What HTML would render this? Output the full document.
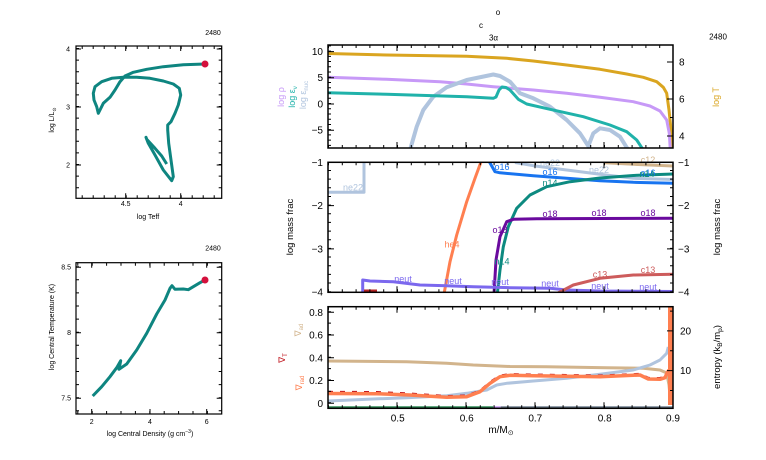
<!DOCTYPE html>
<html><head><meta charset="utf-8"><style>
html,body{margin:0;padding:0;background:#fff;}
svg{display:block;font-family:"Liberation Sans",sans-serif;}
</style></head><body>
<svg width="766" height="460" viewBox="0 0 766 460" xmlns="http://www.w3.org/2000/svg">
<defs>
<clipPath id="cTop"><rect x="328" y="45" width="345" height="103"/></clipPath>
<clipPath id="cMid"><rect x="328" y="162.3" width="345" height="130"/></clipPath>
<clipPath id="cBot"><rect x="328" y="306.7" width="345" height="101.6"/></clipPath>
<clipPath id="cTL"><rect x="76" y="46" width="145.7" height="152.3"/></clipPath>
<clipPath id="cBL"><rect x="76" y="262.7" width="145.7" height="151.3"/></clipPath>
</defs>
<rect width="766" height="460" fill="#fff"/>

<!-- ============ TOP-LEFT HR ============ -->
<g clip-path="url(#cTL)">
<polyline fill="none" stroke="#0e8580" stroke-width="3" stroke-linejoin="round" points="166.7,164 161.7,156 155,148.3 146.7,139.3 146,137.3 148.3,143.3 155,155 163.3,170 171.7,180.7 173.3,176.7 171,160 168.7,143.3 167.7,130 167.7,125 171,121.7 175,113.3 178.3,105 180.7,95 179.3,88.3 173.3,84 163.3,81 150,78.3 136.7,77.3 123.3,77.3 111.7,78.3 101.7,81.7 95,86.7 93.3,93.3 94,100 96.7,106.7 98.3,113.3 100,110 103.3,103.3 110,97.3 115,90 120,81.7 125,76 133.3,72.3 146.7,69.3 163.3,66.7 183.3,64.7 205,64"/>
<circle cx="205" cy="64" r="3.5" fill="#d4103c"/>
</g>
<rect x="76" y="46" width="145.7" height="152.3" fill="none" stroke="#000" stroke-width="1.2"/>
<g stroke="#000">
<line x1="77.5" y1="188.2" x2="77.5" y2="46" stroke-width="3" stroke-dasharray="1 10.6"/>
<line x1="220.2" y1="188.2" x2="220.2" y2="46" stroke-width="3" stroke-dasharray="1 10.6"/>
<line x1="81.7" y1="196.8" x2="221" y2="196.8" stroke-width="3" stroke-dasharray="1 10"/>
<line x1="81.7" y1="47.5" x2="221" y2="47.5" stroke-width="3" stroke-dasharray="1 10"/>
<path d="M76 49h5M76 107h5M76 165h5M221.7 49h-5M221.7 107h-5M221.7 165h-5M125.7 198.3v-5M180.7 198.3v-5M125.7 46v5M180.7 46v5" stroke-width="1"/>
</g>
<g font-size="7" fill="#000">
<text x="70" y="51.5" text-anchor="end">4</text>
<text x="70" y="109.5" text-anchor="end">3</text>
<text x="70" y="167.5" text-anchor="end">2</text>
<text x="125.7" y="206" text-anchor="middle">4.5</text>
<text x="180.7" y="206" text-anchor="middle">4</text>
<text x="148" y="219" text-anchor="middle">log Teff</text>
<text x="213" y="35" text-anchor="middle">2480</text>
<text transform="translate(54,120) rotate(-90)" text-anchor="middle">log L/L<tspan font-size="5" dy="2">⊙</tspan></text>
</g>

<!-- ============ BOTTOM-LEFT ============ -->
<g clip-path="url(#cBL)">
<polyline fill="none" stroke="#0e8580" stroke-width="3" stroke-linejoin="round" points="92.7,396 101.7,386.7 110,376.7 116.7,367.7 120.7,360.7 119,369.3 126.7,364 136.7,350 146.7,333.3 156.7,314 165,300 170,288.3 172,285.7 175,289.3 183.3,289 188.3,289.7 193.3,286.7 200,282.7 205,280"/>
<circle cx="205" cy="280" r="3.5" fill="#d4103c"/>
</g>
<rect x="76" y="262.7" width="145.7" height="151.3" fill="none" stroke="#000" stroke-width="1.2"/>
<g stroke="#000">
<line x1="77.5" y1="411.3" x2="77.5" y2="263" stroke-width="3" stroke-dasharray="1 12.1"/>
<line x1="220.2" y1="411.3" x2="220.2" y2="263" stroke-width="3" stroke-dasharray="1 12.1"/>
<line x1="77.3" y1="412.5" x2="221" y2="412.5" stroke-width="3" stroke-dasharray="1 13.4"/>
<line x1="77.3" y1="264.2" x2="221" y2="264.2" stroke-width="3" stroke-dasharray="1 13.4"/>
<path d="M76 267.2h5M76 332.7h5M76 398.2h5M221.7 267.2h-5M221.7 332.7h-5M221.7 398.2h-5M91.7 414v-5M150 414v-5M206.7 414v-5M91.7 262.7v5M150 262.7v5M206.7 262.7v5" stroke-width="1"/>
</g>
<g font-size="7" fill="#000">
<text x="71" y="269.5" text-anchor="end">8.5</text>
<text x="71" y="335" text-anchor="end">8</text>
<text x="71" y="400.5" text-anchor="end">7.5</text>
<text x="91.7" y="424" text-anchor="middle">2</text>
<text x="150" y="424" text-anchor="middle">4</text>
<text x="206.7" y="424" text-anchor="middle">6</text>
<text x="150" y="436" text-anchor="middle">log Central Density (g cm<tspan font-size="5" dy="-3">−3</tspan><tspan dy="3">)</tspan></text>
<text x="213" y="250.5" text-anchor="middle">2480</text>
<text transform="translate(54,327) rotate(-90)" text-anchor="middle">log Central Temperature (K)</text>
</g>

<!-- ============ TITLE ============ -->
<g font-size="8" fill="#000" text-anchor="middle">
<text x="498" y="15">o</text>
<text x="481" y="28">c</text>
<text x="493.5" y="40.5">3α</text>
<text x="718" y="39.5">2480</text>
</g>

<!-- ============ TOP-RIGHT ============ -->
<g clip-path="url(#cTop)" fill="none" stroke-linejoin="round">
<polyline stroke="#daa520" stroke-width="3" points="328,53.5 386.7,55 466.7,56.2 506.7,58.3 533.3,61 566.7,65 600,69.3 626.7,74 643.3,77.3 656.7,81.7 663.3,87.3 666.7,93.3 669,110 670.7,126.7 671.7,140 672,150"/>
<polyline stroke="#c799f7" stroke-width="3" points="328,77.3 386.7,79.3 440,81.7 466.7,84 493.3,86.7 500,87.3 533.3,90 566.7,93.3 600,97.3 633.3,101.7 650,106 660,111 666.7,120 669.3,133.3 670.3,150"/>
<polyline stroke="#b0c4de" stroke-width="4" points="410,150 416.7,126.7 423.3,110 433.3,96.7 446.7,87.3 466.7,80 493.3,74.5 500,76 510,81.7 520,93.3 533.3,98.3 550,106.7 566.7,120 580,133.3 588.3,146 593.3,133.3 600,128.3 610,130 620,136.7 628.3,150"/>
<polyline stroke="#20b2aa" stroke-width="3" points="328,92.7 386.7,94.3 466.7,96.7 493.3,98.3 496,97 499,90 502,87 506,87.5 510,90 518.3,99.3 526.7,104 550,109.3 583.3,116.7 610,125 626.7,131.7 636.7,140 643.3,150"/>
</g>
<rect x="328" y="45" width="345" height="103" fill="none" stroke="#000" stroke-width="1.5"/>
<g stroke="#000">
<line x1="328" y1="46.5" x2="673" y2="46.5" stroke-width="3" stroke-dasharray="1 12.8"/>
<line x1="328" y1="146.5" x2="673" y2="146.5" stroke-width="3" stroke-dasharray="1 12.8"/>
<path d="M397 45v6M466 45v6M535 45v6M604 45v6M397 148v-6M466 148v-6M535 148v-6M604 148v-6" stroke-width="1"/>
<line x1="329.5" y1="145.9" x2="329.5" y2="45" stroke-width="3" stroke-dasharray="1 4.24"/>
<path d="M328 51.6h6M328 77.8h6M328 104h6M328 130.2h6M673 62h-6M673 99h-6M673 136h-6M673 80.5h-3M673 117.5h-3" stroke-width="1"/>
</g>
<g font-size="10" fill="#000">
<text x="323" y="55" text-anchor="end">10</text>
<text x="323" y="81.2" text-anchor="end">5</text>
<text x="323" y="107.4" text-anchor="end">0</text>
<text x="323" y="133.6" text-anchor="end">−5</text>
<text x="679" y="65.5">8</text>
<text x="679" y="102.5">6</text>
<text x="679" y="139.5">4</text>
</g>
<g font-size="9">
<text transform="translate(284,97) rotate(-90)" text-anchor="middle" fill="#c799f7">log ρ</text>
<text transform="translate(295,97) rotate(-90)" text-anchor="middle" fill="#20b2aa">log ε<tspan font-size="6" dy="2">ν</tspan></text>
<text transform="translate(306,95) rotate(-90)" text-anchor="middle" fill="#b0c4de">log ε<tspan font-size="6" dy="2">nuc</tspan></text>
<text transform="translate(719,97) rotate(-90)" text-anchor="middle" fill="#daa520">log T</text>
</g>

<!-- ============ MIDDLE-RIGHT ============ -->
<g clip-path="url(#cMid)" fill="none" stroke-linejoin="round" stroke-width="3">
<polyline stroke="#b0c4de" points="328,192.3 364,192.3 364,160"/>
<polyline stroke="#b0c4de" points="515,162.5 533.3,165.7 566.7,170 600,174.3 633.3,178.3 673,179.5"/>
<polyline stroke="#d2b48c" points="605,162.8 633.3,164.3 673,166"/>
<polyline stroke="#1874f0" points="488.3,160 495,171.7 500,172.8 533.3,175.7 566.7,178.3 600,180.7 633.3,182.3 673,183.3"/>
<polyline stroke="#0d8a80" points="497.3,294 500,270 503.3,246.7 508.3,226.7 516.7,208.3 530,195 546.7,186.7 570,181.7 600,178 633.3,175.5 673,174"/>
<polyline stroke="#6a0a9e" points="494,294 496,260 500,236.7 506.7,221.7 513.3,219.3 536.7,218.7 673,218.3"/>
<polyline stroke="#ff7f50" points="444,294 450,261.7 456.7,235 466.7,201.7 475,178.3 481.7,160"/>
<polyline stroke="#7b68ee" points="362.7,294 362.7,280 370,281 393.3,281.7 420,285 446.7,285.7 473.3,286.7 510,287.7 550,288.3 566.7,290 600,291 673,291.5"/>
<polyline stroke="#cd5c5c" points="556,294 573.3,285 600,278.3 633.3,275 673,274.3"/>
<polyline stroke="#b22222" points="364,291 377,291"/>
</g>
<g font-size="9">
<text x="353" y="190.5" text-anchor="middle" fill="#b0c4de">ne22</text>
<text x="550" y="166" text-anchor="middle" fill="#b0c4de">ne22</text>
<text x="599" y="173" text-anchor="middle" fill="#b0c4de">ne22</text>
<text x="648" y="163" text-anchor="middle" fill="#d2b48c">c12</text>
<text x="502" y="170" text-anchor="middle" fill="#1874f0">o16</text>
<text x="550" y="175" text-anchor="middle" fill="#1874f0">o16</text>
<text x="648" y="176" text-anchor="middle" fill="#1874f0">o16</text>
<text x="502" y="264.5" text-anchor="middle" fill="#0d8a80">n14</text>
<text x="550" y="186" text-anchor="middle" fill="#0d8a80">n14</text>
<text x="647" y="177" text-anchor="middle" fill="#0d8a80">n14</text>
<text x="500" y="233" text-anchor="middle" fill="#6a0a9e">o18</text>
<text x="550" y="217" text-anchor="middle" fill="#6a0a9e">o18</text>
<text x="599" y="216" text-anchor="middle" fill="#6a0a9e">o18</text>
<text x="648" y="216" text-anchor="middle" fill="#6a0a9e">o18</text>
<text x="452" y="247.5" text-anchor="middle" fill="#ff7f50">he4</text>
<text x="403" y="282" text-anchor="middle" fill="#7b68ee">neut</text>
<text x="453" y="284" text-anchor="middle" fill="#7b68ee">neut</text>
<text x="500" y="285" text-anchor="middle" fill="#7b68ee">neut</text>
<text x="550" y="286.5" text-anchor="middle" fill="#7b68ee">neut</text>
<text x="600" y="289" text-anchor="middle" fill="#7b68ee">neut</text>
<text x="648" y="290" text-anchor="middle" fill="#7b68ee">neut</text>
<text x="600" y="277.5" text-anchor="middle" fill="#cd5c5c">c13</text>
<text x="648" y="273" text-anchor="middle" fill="#cd5c5c">c13</text>
</g>
<rect x="328" y="162.3" width="345" height="130" fill="none" stroke="#000" stroke-width="1.5"/>
<g stroke="#000">
<line x1="328" y1="163.8" x2="673" y2="163.8" stroke-width="3" stroke-dasharray="1 12.8"/>
<line x1="328" y1="290.8" x2="673" y2="290.8" stroke-width="3" stroke-dasharray="1 12.8"/>
<path d="M397 162.3v6M466 162.3v6M535 162.3v6M604 162.3v6M397 292.3v-6M466 292.3v-6M535 292.3v-6M604 292.3v-6" stroke-width="1"/>
<line x1="329.5" y1="292.2" x2="329.5" y2="162.3" stroke-width="3" stroke-dasharray="1 7.66"/>
<line x1="671.5" y1="292.2" x2="671.5" y2="162.3" stroke-width="3" stroke-dasharray="1 7.66"/>
<path d="M328 205.6h6M328 248.9h6M673 205.6h-6M673 248.9h-6" stroke-width="1"/>
</g>
<g font-size="10" fill="#000">
<text x="323" y="165.8" text-anchor="end">−1</text>
<text x="323" y="209.1" text-anchor="end">−2</text>
<text x="323" y="252.4" text-anchor="end">−3</text>
<text x="323" y="295.7" text-anchor="end">−4</text>
<text x="678" y="165.8">−1</text>
<text x="678" y="209.1">−2</text>
<text x="678" y="252.4">−3</text>
<text x="678" y="295.7">−4</text>
</g>
<g font-size="9.5" fill="#000">
<text transform="translate(293,227) rotate(-90)" text-anchor="middle">log mass frac</text>
<text transform="translate(720,227) rotate(-90)" text-anchor="middle">log mass frac</text>
</g>

<!-- ============ BOTTOM-RIGHT ============ -->
<g clip-path="url(#cBot)" fill="none" stroke-linejoin="round">
<polyline stroke="#d2b48c" stroke-width="3" points="328,361 406.7,361.7 446.7,363.3 473.3,365 510,366.5 546.7,366.7 606.7,367.7 643.3,368.3 660,370 666.7,373 669,385 670,396 671,380"/>
<polyline stroke="#b0c4de" stroke-width="3" points="328,401 373.3,399 406.7,397.7 446.7,395.7 466.7,393.3 486.7,390 496.7,385 506.7,383.3 533.3,381 566.7,378.3 600,374.3 633.3,370 650,365 660,360 666.7,353.3 668.3,347"/>
<polyline stroke="#c0141c" stroke-width="2" stroke-dasharray="5 7" points="328,391.8 376.7,392 410,393.5 446.7,396 466.7,395.5 480,390.5 490,382 500,375.5 510,374 533.3,374.5 600,375.5 640,373.8 648.3,377.8 660,378 665,376.5 667,371.5"/>
<polyline stroke="#ff7f50" stroke-width="3.5" points="328,393.5 376.7,393.7 410,395 446.7,397.3 466.7,396.7 480,391.7 490,383.3 500,376.7 510,375.3 533.3,375.7 600,376.7 640,375 648.3,379 660,379.3 665,377.7 667,373 669,370"/>
<rect x="668" y="306" width="5" height="99" fill="#ff7f50"/>
<line x1="328" y1="407.5" x2="493.3" y2="407.5" stroke="#2e8b57" stroke-width="2.5"/>
<line x1="493.3" y1="407.5" x2="500.7" y2="407.5" stroke="#c799f7" stroke-width="2.5"/>
<line x1="500.7" y1="407.5" x2="673" y2="407.5" stroke="#708090" stroke-width="2.5"/>
</g>
<rect x="328" y="306.7" width="345" height="101.6" fill="none" stroke="#000" stroke-width="1.5"/>
<g stroke="#000">
<line x1="328" y1="308.2" x2="673" y2="308.2" stroke-width="3" stroke-dasharray="1 12.8"/>
<line x1="328" y1="406.8" x2="673" y2="406.8" stroke-width="3" stroke-dasharray="1 12.8"/>
<path d="M397 306.7v6M466 306.7v6M535 306.7v6M604 306.7v6M397 408.3v-6M466 408.3v-6M535 408.3v-6M604 408.3v-6" stroke-width="1"/>
<line x1="329.5" y1="403.3" x2="329.5" y2="306.7" stroke-width="3" stroke-dasharray="1 10.375"/>
<path d="M328 403.3h6M328 380.55h6M328 357.8h6M328 335.05h6M328 312.3h6M673 370.6h-6M673 330.9h-6M673 390.5h-3M673 350.8h-3M673 311.1h-3" stroke-width="1"/>
</g>
<g font-size="10" fill="#000">
<text x="323" y="315.8" text-anchor="end">0.8</text>
<text x="323" y="338.6" text-anchor="end">0.6</text>
<text x="323" y="361.3" text-anchor="end">0.4</text>
<text x="323" y="384" text-anchor="end">0.2</text>
<text x="323" y="406.8" text-anchor="end">0</text>
<text x="680" y="334.4">20</text>
<text x="680" y="374.1">10</text>
<text x="397.7" y="421.5" text-anchor="middle">0.5</text>
<text x="466.7" y="421.5" text-anchor="middle">0.6</text>
<text x="535.3" y="421.5" text-anchor="middle">0.7</text>
<text x="604.7" y="421.5" text-anchor="middle">0.8</text>
<text x="673" y="421.5" text-anchor="middle">0.9</text>
<text x="501" y="433" text-anchor="middle">m/M<tspan font-size="7" dy="2">⊙</tspan></text>
<text transform="translate(720,357) rotate(-90)" text-anchor="middle" font-size="9.5">entropy (k<tspan font-size="6.5" dy="2">B</tspan><tspan dy="-2">/m</tspan><tspan font-size="6.5" dy="2">p</tspan><tspan dy="-2">)</tspan></text>
</g>
<g font-size="9">
<text transform="translate(301,330) rotate(-90)" text-anchor="middle" fill="#d2b48c">∇<tspan font-size="6" dy="2">ad</tspan></text>
<text transform="translate(285,358) rotate(-90)" text-anchor="middle" fill="#c0141c">∇<tspan font-size="6" dy="2">T</tspan></text>
<text transform="translate(302,383) rotate(-90)" text-anchor="middle" fill="#ff7f50">∇<tspan font-size="6" dy="2">rad</tspan></text>
</g>
</svg>
</body></html>
